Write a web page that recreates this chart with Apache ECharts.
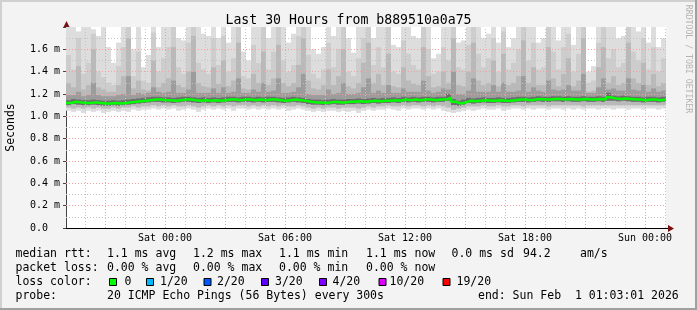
<!DOCTYPE html>
<html>
<head>
<meta charset="utf-8">
<script src="https://cdn.jsdelivr.net/npm/echarts@6.0.0/dist/echarts.min.js"></script>
<style>
    html, body { margin: 0; padding: 0; background: #f3f3f3; }
    #chart { width: 697px; height: 310px; }
</style>
</head>
<body>
<div id="chart"></div>
<script>
// x is hours counted from Fri 00:00, one value per 15 min column
var startHour = 19.05;
var endHour = 49.05;
var stepHours = 0.25;

// median rtt (ms)
var median = [
    1.12, 1.13, 1.125, 1.12, 1.12, 1.125, 1.12, 1.115, 1.115, 1.12,
    1.115, 1.12, 1.125, 1.13, 1.135, 1.14, 1.145, 1.15, 1.15, 1.145,
    1.145, 1.14, 1.145, 1.15, 1.15, 1.145, 1.14, 1.145, 1.14, 1.145,
    1.14, 1.145, 1.15, 1.15, 1.145, 1.15, 1.15, 1.145, 1.15, 1.145,
    1.15, 1.15, 1.145, 1.14, 1.145, 1.15, 1.145, 1.14, 1.13, 1.125,
    1.125, 1.12, 1.125, 1.13, 1.125, 1.125, 1.13, 1.13, 1.135, 1.13,
    1.135, 1.14, 1.135, 1.14, 1.14, 1.145, 1.14, 1.15, 1.145, 1.15,
    1.145, 1.15, 1.15, 1.145, 1.15, 1.15, 1.165, 1.13, 1.115, 1.125,
    1.14, 1.135, 1.14, 1.145, 1.14, 1.14, 1.145, 1.14, 1.14, 1.145,
    1.15, 1.15, 1.145, 1.15, 1.155, 1.15, 1.15, 1.155, 1.155, 1.15,
    1.155, 1.15, 1.15, 1.155, 1.15, 1.15, 1.155, 1.15, 1.17, 1.16,
    1.155, 1.16, 1.155, 1.15, 1.15, 1.145, 1.15, 1.15, 1.145, 1.15, 1.15
];

// smoke: outer pings (lightest) -> inner pings (darkest)
var loA = [
    1.05, 1.04, 1.05, 1.03, 1.05, 1.04, 1.05, 1.03, 1.04, 1.05,
    1.04, 1.05, 1.04, 1.06, 1.05, 1.06, 1.06, 1.07, 1.06, 1.07,
    1.06, 1.07, 1.05, 1.06, 1.07, 1.06, 1.04, 1.06, 1.07, 1.06,
    1.07, 1.06, 1.07, 1.05, 1.07, 1.07, 1.06, 1.07, 1.06, 1.07,
    1.06, 1.07, 1.06, 1.07, 1.05, 1.06, 1.07, 1.06, 1.05, 1.04,
    1.05, 1.04, 1.05, 1.05, 1.04, 1.05, 1.04, 1.05, 1.03, 1.05,
    1.06, 1.05, 1.06, 1.06, 1.07, 1.06, 1.05, 1.07, 1.06, 1.07,
    1.07, 1.06, 1.07, 1.06, 1.07, 1.05, 1.04, 1.03, 1.04, 1.05,
    1.06, 1.05, 1.06, 1.07, 1.06, 1.06, 1.07, 1.05, 1.06, 1.07,
    1.07, 1.06, 1.07, 1.06, 1.07, 1.07, 1.06, 1.07, 1.07, 1.06,
    1.07, 1.06, 1.07, 1.06, 1.07, 1.07, 1.06, 1.07, 1.07, 1.06,
    1.07, 1.07, 1.06, 1.07, 1.07, 1.06, 1.07, 1.07, 1.06, 1.07, 1.07
];
var hiA = [
    1.80, 1.80, 1.76, 1.80, 1.80, 1.78, 1.72, 1.80, 1.62, 1.48,
    1.66, 1.80, 1.80, 1.60, 1.80, 1.44, 1.55, 1.80, 1.62, 1.80,
    1.80, 1.80, 1.70, 1.68, 1.80, 1.80, 1.80, 1.74, 1.72, 1.80,
    1.70, 1.80, 1.66, 1.80, 1.80, 1.58, 1.50, 1.80, 1.80, 1.80,
    1.70, 1.80, 1.80, 1.80, 1.66, 1.74, 1.80, 1.80, 1.80, 1.60,
    1.56, 1.62, 1.80, 1.72, 1.80, 1.80, 1.70, 1.57, 1.80, 1.80,
    1.80, 1.70, 1.80, 1.80, 1.80, 1.64, 1.62, 1.80, 1.80, 1.72,
    1.70, 1.80, 1.80, 1.52, 1.56, 1.80, 1.80, 1.80, 1.66, 1.68,
    1.80, 1.80, 1.80, 1.70, 1.74, 1.80, 1.66, 1.80, 1.62, 1.70,
    1.80, 1.80, 1.80, 1.80, 1.66, 1.70, 1.80, 1.80, 1.68, 1.80,
    1.80, 1.64, 1.80, 1.80, 1.40, 1.45, 1.80, 1.80, 1.80, 1.80,
    1.70, 1.72, 1.80, 1.80, 1.76, 1.80, 1.66, 1.80, 1.62, 1.70, 1.70
];
var loB = [
    1.08, 1.07, 1.08, 1.07, 1.08, 1.07, 1.08, 1.07, 1.07, 1.08,
    1.07, 1.08, 1.08, 1.09, 1.08, 1.09, 1.09, 1.10, 1.09, 1.10,
    1.09, 1.10, 1.09, 1.09, 1.10, 1.09, 1.08, 1.09, 1.10, 1.09,
    1.10, 1.09, 1.10, 1.09, 1.10, 1.10, 1.09, 1.10, 1.09, 1.10,
    1.09, 1.10, 1.09, 1.10, 1.09, 1.09, 1.10, 1.09, 1.08, 1.07,
    1.08, 1.07, 1.08, 1.08, 1.07, 1.08, 1.08, 1.08, 1.07, 1.08,
    1.09, 1.08, 1.09, 1.09, 1.10, 1.09, 1.09, 1.10, 1.09, 1.10,
    1.10, 1.09, 1.10, 1.09, 1.10, 1.09, 1.08, 1.06, 1.07, 1.08,
    1.09, 1.09, 1.09, 1.10, 1.09, 1.09, 1.10, 1.09, 1.09, 1.10,
    1.10, 1.09, 1.10, 1.10, 1.10, 1.10, 1.09, 1.10, 1.10, 1.10,
    1.10, 1.10, 1.10, 1.09, 1.10, 1.10, 1.10, 1.10, 1.10, 1.10,
    1.10, 1.10, 1.10, 1.10, 1.10, 1.10, 1.10, 1.10, 1.10, 1.10, 1.10
];
var hiB = [
    1.55, 1.42, 1.70, 1.38, 1.48, 1.74, 1.40, 1.35, 1.30, 1.28,
    1.45, 1.62, 1.80, 1.36, 1.58, 1.32, 1.30, 1.75, 1.40, 1.52,
    1.62, 1.80, 1.44, 1.38, 1.66, 1.80, 1.48, 1.42, 1.38, 1.70,
    1.46, 1.72, 1.40, 1.52, 1.80, 1.36, 1.34, 1.64, 1.48, 1.80,
    1.42, 1.58, 1.80, 1.50, 1.40, 1.46, 1.72, 1.80, 1.55, 1.38,
    1.34, 1.42, 1.66, 1.44, 1.60, 1.80, 1.40, 1.36, 1.52, 1.70,
    1.80, 1.46, 1.62, 1.44, 1.80, 1.40, 1.38, 1.68, 1.56, 1.46,
    1.42, 1.80, 1.60, 1.38, 1.40, 1.62, 1.50, 1.80, 1.44, 1.42,
    1.64, 1.80, 1.56, 1.44, 1.52, 1.70, 1.40, 1.76, 1.42, 1.48,
    1.60, 1.80, 1.50, 1.66, 1.42, 1.44, 1.80, 1.58, 1.42, 1.62,
    1.74, 1.40, 1.56, 1.80, 1.30, 1.32, 1.66, 1.80, 1.52, 1.60,
    1.44, 1.48, 1.80, 1.58, 1.50, 1.70, 1.42, 1.62, 1.40, 1.52, 1.52
];
var hiC = [
    1.30, 1.26, 1.45, 1.24, 1.28, 1.60, 1.26, 1.24, 1.22, 1.22,
    1.28, 1.36, 1.70, 1.25, 1.32, 1.24, 1.23, 1.50, 1.26, 1.30,
    1.34, 1.62, 1.28, 1.26, 1.40, 1.72, 1.30, 1.27, 1.26, 1.44,
    1.29, 1.50, 1.27, 1.32, 1.66, 1.25, 1.24, 1.38, 1.30, 1.58,
    1.28, 1.34, 1.64, 1.30, 1.27, 1.30, 1.46, 1.70, 1.32, 1.25,
    1.24, 1.28, 1.42, 1.28, 1.36, 1.60, 1.27, 1.25, 1.30, 1.48,
    1.66, 1.30, 1.38, 1.28, 1.56, 1.27, 1.26, 1.44, 1.32, 1.29,
    1.28, 1.62, 1.36, 1.26, 1.27, 1.40, 1.30, 1.70, 1.28, 1.27,
    1.40, 1.66, 1.32, 1.28, 1.30, 1.50, 1.27, 1.56, 1.28, 1.30,
    1.36, 1.68, 1.30, 1.44, 1.28, 1.28, 1.62, 1.34, 1.27, 1.38,
    1.52, 1.27, 1.32, 1.70, 1.22, 1.23, 1.44, 1.62, 1.30, 1.36,
    1.28, 1.30, 1.66, 1.34, 1.30, 1.48, 1.28, 1.38, 1.27, 1.30, 1.30
];
var loC = [
    1.10, 1.11, 1.105, 1.10, 1.10, 1.105, 1.10, 1.095, 1.095, 1.10,
    1.095, 1.10, 1.105, 1.11, 1.115, 1.12, 1.125, 1.13, 1.13, 1.125,
    1.125, 1.12, 1.125, 1.13, 1.13, 1.125, 1.12, 1.125, 1.12, 1.125,
    1.12, 1.125, 1.13, 1.13, 1.125, 1.13, 1.13, 1.125, 1.13, 1.125,
    1.13, 1.13, 1.125, 1.12, 1.125, 1.13, 1.125, 1.12, 1.11, 1.105,
    1.105, 1.10, 1.105, 1.11, 1.105, 1.105, 1.11, 1.11, 1.115, 1.11,
    1.115, 1.12, 1.115, 1.12, 1.12, 1.125, 1.12, 1.13, 1.125, 1.13,
    1.125, 1.13, 1.13, 1.125, 1.13, 1.13, 1.14, 1.10, 1.095, 1.105,
    1.12, 1.115, 1.12, 1.125, 1.12, 1.12, 1.125, 1.12, 1.12, 1.125,
    1.13, 1.13, 1.125, 1.13, 1.135, 1.13, 1.13, 1.135, 1.135, 1.13,
    1.135, 1.13, 1.13, 1.135, 1.13, 1.13, 1.135, 1.13, 1.14, 1.14,
    1.135, 1.14, 1.135, 1.13, 1.13, 1.125, 1.13, 1.13, 1.125, 1.13, 1.13
];
var hiD = [
    1.19, 1.19, 1.22, 1.18, 1.19, 1.30, 1.19, 1.18, 1.18, 1.18,
    1.19, 1.20, 1.36, 1.19, 1.21, 1.20, 1.21, 1.26, 1.22, 1.21,
    1.22, 1.32, 1.21, 1.21, 1.24, 1.40, 1.21, 1.21, 1.21, 1.25,
    1.21, 1.26, 1.21, 1.22, 1.34, 1.21, 1.21, 1.24, 1.22, 1.30,
    1.22, 1.23, 1.34, 1.21, 1.21, 1.22, 1.26, 1.38, 1.20, 1.19,
    1.19, 1.19, 1.24, 1.20, 1.21, 1.30, 1.20, 1.20, 1.21, 1.26,
    1.34, 1.21, 1.23, 1.21, 1.28, 1.21, 1.21, 1.25, 1.22, 1.22,
    1.22, 1.32, 1.23, 1.21, 1.22, 1.25, 1.24, 1.40, 1.20, 1.20,
    1.23, 1.34, 1.22, 1.22, 1.22, 1.28, 1.22, 1.30, 1.22, 1.22,
    1.23, 1.36, 1.22, 1.26, 1.23, 1.22, 1.32, 1.24, 1.23, 1.24,
    1.28, 1.23, 1.23, 1.38, 1.21, 1.21, 1.26, 1.34, 1.24, 1.25,
    1.23, 1.23, 1.34, 1.24, 1.23, 1.28, 1.22, 1.25, 1.22, 1.23, 1.23
];
var hiE = [
    1.145, 1.155, 1.15, 1.145, 1.145, 1.15, 1.145, 1.14, 1.14, 1.145,
    1.14, 1.145, 1.15, 1.155, 1.16, 1.165, 1.17, 1.175, 1.175, 1.17,
    1.17, 1.165, 1.17, 1.175, 1.175, 1.17, 1.165, 1.17, 1.165, 1.17,
    1.165, 1.17, 1.175, 1.175, 1.17, 1.175, 1.175, 1.17, 1.175, 1.17,
    1.175, 1.175, 1.17, 1.165, 1.17, 1.175, 1.17, 1.165, 1.155, 1.15,
    1.15, 1.145, 1.15, 1.155, 1.15, 1.15, 1.155, 1.155, 1.16, 1.155,
    1.16, 1.165, 1.16, 1.165, 1.165, 1.17, 1.165, 1.175, 1.17, 1.175,
    1.17, 1.175, 1.175, 1.17, 1.175, 1.175, 1.20, 1.155, 1.14, 1.15,
    1.165, 1.16, 1.165, 1.17, 1.165, 1.165, 1.17, 1.165, 1.165, 1.17,
    1.175, 1.175, 1.17, 1.175, 1.18, 1.175, 1.175, 1.18, 1.18, 1.175,
    1.18, 1.175, 1.175, 1.18, 1.175, 1.175, 1.18, 1.175, 1.21, 1.185,
    1.18, 1.185, 1.18, 1.175, 1.175, 1.17, 1.175, 1.175, 1.17, 1.175, 1.175
];

var tickHours = [24, 30, 36, 42, 48];
var tickLabels = ['Sat 00:00', 'Sat 06:00', 'Sat 12:00', 'Sat 18:00', 'Sun 00:00'];

var rttStats = ['1.1 ms avg', '1.2 ms max', '1.1 ms min', '1.1 ms now', '0.0 ms sd', '94.2', 'am/s'];
var lossStats = ['0.00 % avg', '0.00 % max', '0.00 % min', '0.00 % now'];
var lossLabels = ['0', '1/20', '2/20', '3/20', '4/20', '10/20', '19/20'];
var lossColors = ['#00ff00', '#00b8ff', '#0059ff', '#5e00ff', '#7e00ff', '#dd00ff', '#ff0000'];
var probeText = '20 ICMP Echo Pings (56 Bytes) every 300s';
var endText = 'end: Sun Feb  1 01:03:01 2026';

var mono = '"DejaVu Sans Mono", monospace';
var grayGrid = '#c4c4c4';
var redGrid = '#f2a0a0';

var times = median.map(function (v, i) { return startHour + i * stepHours; });
function pts(arr) {
    return arr.map(function (v, i) { return [times[i], v]; });
}

// each smoke layer is a set of columns [t0, t1, lo, hi]
function smokeSeries(lo, hi, color) {
    var data = lo.map(function (v, i) { return [times[i], times[i] + stepHours, v, hi[i]]; });
    return {
        type: 'custom', data: data, encode: {x: [0, 1], y: [2, 3]},
        clip: true, silent: true, animation: false, z: 2,
        renderItem: function (params, api) {
            var a = api.coord([api.value(0), api.value(3)]);
            var b = api.coord([api.value(1), api.value(2)]);
            return {
                type: 'rect',
                shape: {x: a[0], y: a[1], width: b[0] - a[0], height: b[1] - a[1]},
                style: {fill: color}
            };
        }
    };
}

var series = [
    smokeSeries(loA, hiA, '#dddddd'),
    smokeSeries(loB, hiB, '#cdcdcd'),
    smokeSeries(loB, hiC, '#b9b9b9'),
    smokeSeries(loC, hiD, '#9c9c9c'),
    smokeSeries(loC, hiE, '#6e6e6e')
];

// grid drawn over the smoke like rrdtool does
var gridLines = [];
for (var h = 20; h <= 49; h++) {
    if (h % 3 !== 0) gridLines.push({xAxis: h, lineStyle: {color: grayGrid, type: [1, 2], width: 1}});
}
for (var k = 1; k <= 17; k += 2) {
    gridLines.push({yAxis: k / 10, lineStyle: {color: grayGrid, type: [1, 2], width: 1}});
}
for (var h2 = 21; h2 <= 48; h2 += 3) {
    gridLines.push({xAxis: h2, lineStyle: {color: redGrid, type: [1, 2], width: 1}});
}
for (var k2 = 2; k2 <= 16; k2 += 2) {
    gridLines.push({yAxis: k2 / 10, lineStyle: {color: redGrid, type: [1, 2], width: 1}});
}
series.push({
    type: 'line', data: pts(median), symbol: 'none', lineStyle: {opacity: 0},
    silent: true, animation: false, z: 4,
    markLine: {
        silent: true, symbol: ['none', 'none'], label: {show: false}, animation: false,
        data: gridLines
    }
});

series.push({
    type: 'line', data: pts(median), step: 'end', symbol: 'none',
    lineStyle: {color: '#00ff00', width: 2.5}, silent: true, animation: false, z: 6
});

// frame, arrows, watermark and legend block
var graphic = [
    {type: 'rect', shape: {x: 0, y: 0, width: 697, height: 2}, style: {fill: '#d0d0d0'}},
    {type: 'rect', shape: {x: 0, y: 0, width: 2, height: 310}, style: {fill: '#d0d0d0'}},
    {type: 'rect', shape: {x: 0, y: 308, width: 697, height: 2}, style: {fill: '#a0a0a0'}},
    {type: 'rect', shape: {x: 695, y: 0, width: 2, height: 310}, style: {fill: '#a0a0a0'}},
    {type: 'polygon', shape: {points: [[63.5, 27], [69.5, 27], [66.5, 21]]}, style: {fill: '#7a1010'}},
    {type: 'line', shape: {x1: 666, y1: 228.5, x2: 669, y2: 228.5}, style: {stroke: '#000', lineWidth: 1}},
    {type: 'polygon', shape: {points: [[668, 225], [668, 232], [674, 228.5]]}, style: {fill: '#7a1010'}},
    {type: 'text', x: 688, y: 59, rotation: -Math.PI / 2,
        style: {text: 'RRDTOOL / TOBI OETIKER', fill: '#b4b4b4', fontSize: 8.2, fontFamily: mono,
            align: 'center', verticalAlign: 'middle'}}
];

function txt(s, x, y) {
    graphic.push({type: 'text', x: x, y: y,
        style: {text: s, fill: '#000', fontSize: 11.5, fontFamily: mono, verticalAlign: 'middle'}});
}
var col = [107, 193, 279, 366, 451.5, 523, 580];
txt('median rtt:', 15.5, 254.5);
rttStats.forEach(function (s, i) { txt(s, col[i], 254.5); });
txt('packet loss:', 15.5, 268.5);
lossStats.forEach(function (s, i) { txt(s, col[i], 268.5); });
txt('loss color:', 15.5, 282.5);
var boxX = [109, 146, 203.5, 261, 319, 378.5, 442.5];
var boxLabelX = [124.5, 160, 217, 275, 332.5, 389.5, 456.5];
lossLabels.forEach(function (s, i) {
    graphic.push({type: 'rect', shape: {x: boxX[i] + 0.5, y: 278.5, width: 7, height: 7},
        style: {fill: lossColors[i], stroke: '#000', lineWidth: 1}});
    txt(s, boxLabelX[i], 282.5);
});
txt('probe:', 15.5, 296.5);
txt(probeText, 107, 296.5);
txt(endText, 478, 296.5);

var chart = echarts.init(document.getElementById('chart'));
chart.setOption({
    backgroundColor: '#f3f3f3',
    animation: false,
    title: {
        text: 'Last 30 Hours from b889510a0a75', left: 'center', top: 9,
        textStyle: {fontFamily: mono, fontSize: 13.2, fontWeight: 'normal', color: '#000'}
    },
    grid: {
        left: 66, right: 31, top: 27, bottom: 82, outerBoundsMode: 'none',
        show: true, backgroundColor: '#ffffff', borderWidth: 0
    },
    xAxis: {
        type: 'value', min: startHour, max: endHour,
        splitLine: {show: false},
        axisLine: {lineStyle: {color: '#000', width: 1}},
        axisTick: {show: false},
        axisLabel: {
            customValues: tickHours,
            formatter: function (v) { return tickLabels[tickHours.indexOf(v)]; },
            fontFamily: mono, fontSize: 10, color: '#000', margin: 5
        }
    },
    yAxis: {
        type: 'value', min: 0, max: 1.8, interval: 0.2,
        name: 'Seconds', nameLocation: 'middle', nameGap: 49,
        nameTextStyle: {fontFamily: mono, fontSize: 11.5, color: '#000'},
        splitLine: {show: false},
        axisLine: {show: true, lineStyle: {color: '#444', width: 1}},
        axisTick: {show: true, length: 3, lineStyle: {color: '#444'}},
        axisLabel: {
            formatter: function (v) {
                if (v === 0) return '0.0  ';
                if (v > 1.75) return '';
                return v.toFixed(1) + ' m';
            },
            fontFamily: mono, fontSize: 10, color: '#000', margin: 6
        }
    },
    graphic: graphic,
    series: series
});
</script>
</body>
</html>
